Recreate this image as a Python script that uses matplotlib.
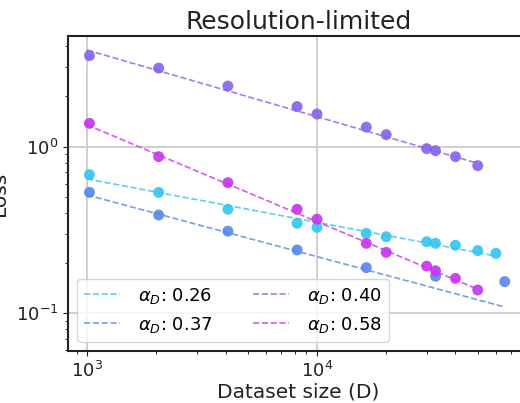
import numpy as np
import matplotlib.pyplot as plt

# dataset sizes and measured losses for each run
d_cyan = [1024, 2048, 4096, 8192, 10000, 16384, 20000, 30000, 32768, 40000, 50000, 60000]
loss_cyan = [0.679, 0.532, 0.421, 0.347, 0.328, 0.302, 0.288, 0.269, 0.263, 0.256, 0.238, 0.229]

d_blue = [1024, 2048, 4096, 8192, 16384, 32768, 65536]
loss_blue = [0.532, 0.389, 0.311, 0.240, 0.188, 0.167, 0.155]

d_purple = [1024, 2048, 4096, 8192, 10000, 16384, 20000, 30000, 32768, 40000, 50000]
loss_purple = [3.52, 2.96, 2.31, 1.74, 1.57, 1.31, 1.18, 0.973, 0.946, 0.871, 0.769]

d_magenta = [1024, 2048, 4096, 8192, 10000, 16384, 20000, 30000, 32768, 40000, 50000]
loss_magenta = [1.38, 0.871, 0.608, 0.421, 0.367, 0.263, 0.232, 0.192, 0.180, 0.162, 0.138]

# fitted exponents and fit amplitude at D = 1000
alphas = [0.26, 0.37, 0.40, 0.58]
fit_amp = [0.64, 0.513, 3.8, 1.35]

colors = ["#33c3f0", "#5585ea", "#8462ec", "#c733ec"]

series = [
    (d_cyan, loss_cyan),
    (d_blue, loss_blue),
    (d_purple, loss_purple),
    (d_magenta, loss_magenta),
]

fig = plt.figure(figsize=(5.2, 4.03), dpi=100)
# axes runs slightly past the right edge of the canvas
ax = fig.add_axes([68 / 520, 52 / 403, 461 / 520, 315 / 403])

for (d, loss), a, amp, c in zip(series, alphas, fit_amp, colors):
    d = np.array(d, dtype=float)
    ax.scatter(d, loss, s=62, color=c, alpha=0.9, edgecolors="none", zorder=3)
    dd = np.array([1000.0, d.max()])
    ax.plot(dd, amp * (dd / 1000.0) ** (-a), "--", color=c, lw=1.2, alpha=0.8,
            label=r"$\alpha_D$: %.2f" % a, zorder=2)

ax.set_xscale("log")
ax.set_yscale("log")
ax.set_xlim(10 ** 2.917, 10 ** 4.922)
ax.set_ylim(10 ** -1.226, 10 ** 0.664)

ax.grid(True, which="major", color="#cccccc", lw=1.3)
ax.set_axisbelow(True)
for s in ax.spines.values():
    s.set_color("#222222")
    s.set_linewidth(1.5)

ax.tick_params(labelsize=13, colors="#222222")
ax.set_title("Resolution-limited", fontsize=18, color="#222222", pad=5)
ax.set_xlabel("Dataset size (D)", fontsize=14.5, color="#222222", labelpad=1)
ax.set_ylabel("Loss", fontsize=14.5, color="#222222")
ax.yaxis.set_label_coords(-0.128, 0.5)

ax.legend(loc="lower left", ncol=2, fontsize=13, columnspacing=2.2,
          handletextpad=1.0)

fig.savefig("out.png", dpi=100)
